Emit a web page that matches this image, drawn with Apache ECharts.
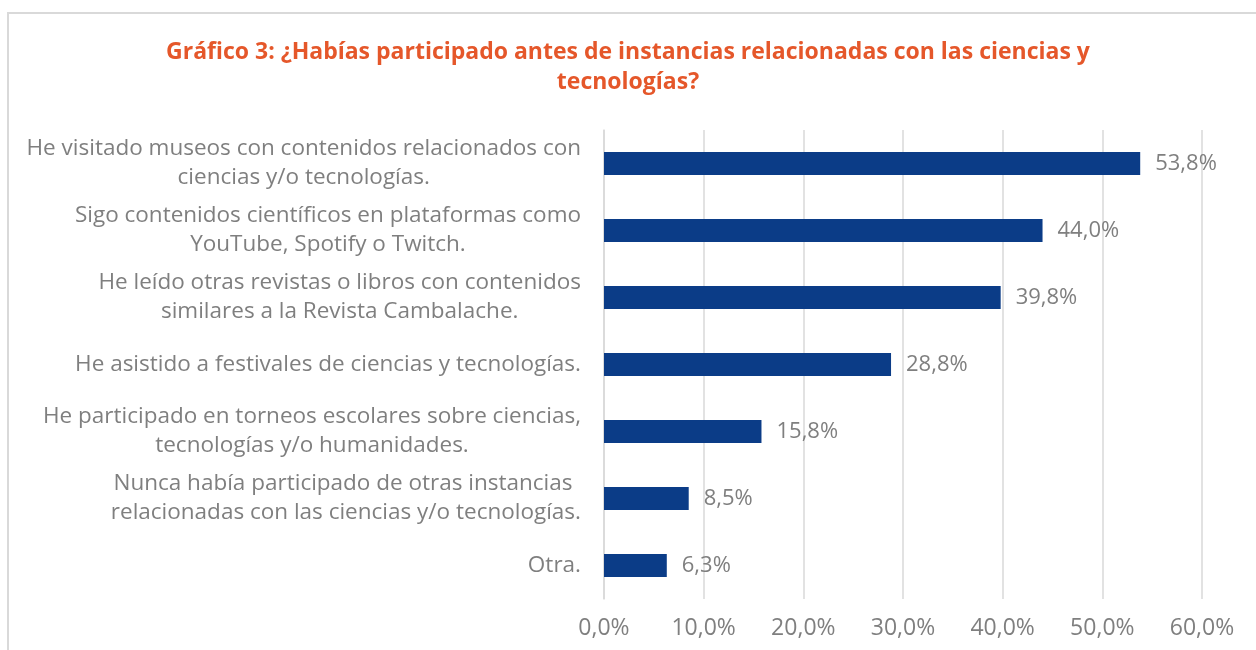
<!DOCTYPE html>
<html>
<head>
<meta charset="utf-8">
<script src="https://cdn.jsdelivr.net/npm/echarts@6/dist/echarts.min.js"></script>
<style>
    html, body {margin: 0; padding: 0; background: #fff;}
    #chart {width: 1256px; height: 650px;}
</style>
</head>
<body>
<div id="chart"></div>
<script>
// categorias (de abajo hacia arriba, como las dibuja el eje)
var categorias = [
    'Otra.',
    'Nunca había participado de otras instancias \nrelacionadas con las ciencias y/o tecnologías.',
    'He participado en torneos escolares sobre ciencias,\ntecnologías y/o humanidades.',
    'He asistido a festivales de ciencias y tecnologías.',
    'He leído otras revistas o libros con contenidos\nsimilares a la Revista Cambalache.',
    'Sigo contenidos científicos en plataformas como\nYouTube, Spotify o Twitch.',
    'He visitado museos con contenidos relacionados con\nciencias y/o tecnologías.'
];
var porcentajes = [6.3, 8.5, 15.8, 28.8, 39.8, 44.0, 53.8];
var titulo = 'Gráfico 3: ¿Habías participado antes de instancias relacionadas con las ciencias y\ntecnologías?';

function coma(v) {
    return v.toFixed(1).replace('.', ',') + '%';
}

var myChart = echarts.init(document.getElementById('chart'));
var option = {
    backgroundColor: '#fff',
    animation: false,
    title: {
        text: titulo,
        left: 'center',
        top: 32,
        textStyle: {
            color: '#E5572A',
            fontFamily: 'Open Sans',
            fontWeight: 'bold',
            fontSize: 23,
            lineHeight: 30
        }
    },
    graphic: [{
        type: 'rect',
        shape: {x: 8, y: 13, width: 1300, height: 700},
        style: {fill: null, stroke: '#d9d9d9', lineWidth: 2},
        silent: true
    }],
    grid: {left: 604, right: 54, top: 130, bottom: 51},
    xAxis: {
        type: 'value',
        min: 0,
        max: 60,
        interval: 10,
        axisLine: {show: false},
        axisTick: {show: false},
        splitLine: {lineStyle: {color: '#d9d9d9', width: 1.5}},
        axisLabel: {
            margin: 18,
            color: '#7f7f7f',
            fontFamily: 'Open Sans',
            fontSize: 23,
            formatter: function (v) { return coma(v); }
        }
    },
    yAxis: {
        type: 'category',
        data: categorias,
        axisLine: {show: true, lineStyle: {color: '#d9d9d9', width: 1.5}},
        axisTick: {show: false},
        axisLabel: {
            margin: 23,
            formatter: function (v) {
                return v.split('\n').map(function (l) { return '{c|' + l + '}'; }).join('\n');
            },
            rich: {
                c: {
                    align: 'center',
                    color: '#7f7f7f',
                    fontFamily: 'Open Sans',
                    fontSize: 22.5,
                    lineHeight: 29
                }
            }
        }
    },
    series: [{
        type: 'bar',
        data: porcentajes,
        barWidth: 23,
        itemStyle: {color: '#0B3C87'},
        label: {
            show: true,
            position: 'right',
            distance: 15,
            color: '#7f7f7f',
            fontFamily: 'Open Sans',
            fontSize: 22,
            formatter: function (p) { return coma(p.value); }
        }
    }]
};
myChart.setOption(option);
</script>
</body>
</html>
